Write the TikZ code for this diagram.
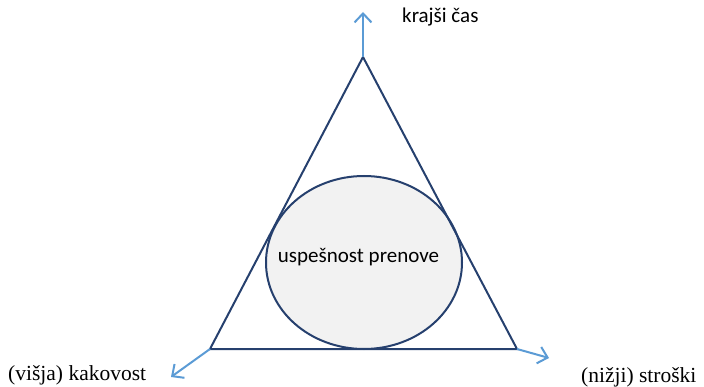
\documentclass[tikz,border=0pt]{standalone}
\usepackage{fontspec}
\setmainfont{Liberation Serif}
\newfontfamily\calfont{Carlito}
\usetikzlibrary{arrows.meta}
\definecolor{trojkot}{RGB}{38,64,110}
\definecolor{puscica}{RGB}{91,155,213}
\definecolor{polnilo}{RGB}{242,242,242}
\begin{document}
\begin{tikzpicture}[x=1pt, y=-1pt,
    stranica/.style={line width=2pt, trojkot, line join=miter},
    os/.style={line width=2pt, puscica, -{Straight Barb[length=9pt, width=17pt, line width=2pt]}},
    oznaka/.style={inner sep=0pt, font=\fontsize{21.5}{24}\selectfont},
    sans/.style={inner sep=0pt, font=\calfont\fontsize{21}{24}\selectfont}]

    \useasboundingbox (0,0) rectangle (704,387);

    % 1. Oglišča trikotnika
    \coordinate (T) at (363,57);
    \coordinate (L) at (210,349);
    \coordinate (D) at (517,349);

    % 2. Elipsa
    \draw[line width=2pt, trojkot, fill=polnilo] (364,262.5) ellipse (98 and 86.5);
    \node[sans] (uspeh) at (358.5,257) {uspešnost prenove};

    % 3. Trikotnik
    \draw[stranica] (T) -- (L) -- (D) -- cycle;

    % 4. Puščice
    \coordinate (Tk) at (363,12);
    \coordinate (Lk) at (171,377);
    \coordinate (Dk) at (549,358);
    \draw[os] (T) -- (Tk);
    \draw[os] (L) -- (Lk);
    \draw[os] (D) -- (Dk);

    % 5. Oznake
    \node[sans, anchor=west] (cas) at (402,17) {krajši čas};
    \node[oznaka, anchor=west] (kakovost) at (8,375) {(višja) kakovost};
    \node[oznaka, anchor=west] (stroski) at (581,377) {(nižji) stroški};

\end{tikzpicture}
\end{document}
